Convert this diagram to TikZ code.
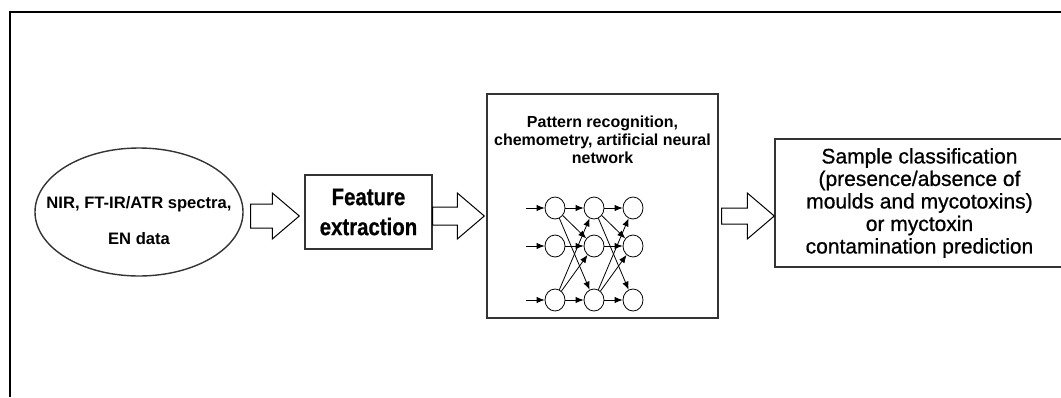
\documentclass[tikz,border=0pt]{standalone}
\usepackage{fontspec}
\setmainfont{Liberation Sans}
\newfontfamily\narrowbold[FakeStretch=0.85,FakeBold=0.6]{Liberation Sans Bold}
\newfontfamily\heavyfont[FakeBold=0.8]{Liberation Sans}
\usetikzlibrary{shapes.geometric,arrows.meta,calc}

\tikzset{
  outline/.style={draw=black!80, line width=0.7pt},
  stage/.style={outline, rectangle, inner sep=0pt, align=center},
  neuron/.style={draw, ellipse, minimum width=10pt, minimum height=11pt, inner sep=0pt},
  syn/.style={-{Latex[length=4pt,width=3.2pt]}, line width=0.4pt},
  fat/.style={draw, line width=0.5pt, fill=white}
}

% block arrow between two nodes: from, to, gap before, gap after, half shaft height
\newcommand\fatarrow[5]{%
  \draw[fat] let \p1=($(#1.east)+(#3,0)$), \p2=($(#2.west)-(#4,0)$), \p3=(flow) in
    (\x1,\y3+#5) -- (\x2-13.5pt,\y3+#5) -- (\x2-13.5pt,\y3+11.5pt) -- (\x2,\y3)
    -- (\x2-13.5pt,\y3-11.5pt) -- (\x2-13.5pt,\y3-#5) -- (\x1,\y3-#5) -- cycle;}

\begin{document}
\begin{tikzpicture}[x=0.5pt,y=-0.5pt]
  \useasboundingbox (0,0) rectangle (1061,397);

  % Frame
  \draw[line width=0.8pt] (1061,12) -- (10,12) -- (10,397);

  % Stages
  \node[outline, ellipse, minimum width=104pt, minimum height=64pt, inner sep=0pt] (src) at (139,212) {};
  \node[align=center, inner sep=0pt, font=\bfseries\fontsize{8.3}{18}\selectfont] (srctext) at (139,221)
        {NIR, FT-IR/ATR spectra,\\ EN data};
  \node[stage, minimum width=63.5pt, minimum height=37pt,
        font=\narrowbold\fontsize{12}{15}\selectfont] (feat) at (368.5,212)
        {Feature\\ extraction};
  \node[stage, minimum width=115.5pt, minimum height=112pt] (ann) at (602.5,206) {};
  \node[align=center, inner sep=0pt, font=\bfseries\fontsize{8}{9}\selectfont] (anntitle) at (602.5,140)
        {Pattern recognition,\\ chemometry, artificial neural\\ network};
  \node[stage, minimum width=144.5pt, minimum height=64pt,
        font=\heavyfont\fontsize{10.5}{11.25}\selectfont] (res) at (919.5,203)
        {Sample classification\\ (presence/absence of\\ moulds and mycotoxins)\\ or myctoxin\\ contamination prediction};

  % Flow arrows
  \coordinate (flow) at (0,216);
  \fatarrow{src}{feat}{7}{5}{6pt}
  \fatarrow{feat}{ann}{0}{2}{4.5pt}
  \fatarrow{ann}{res}{3}{0}{4pt}

  % Network sketch
  \foreach \c/\x in {1/555,2/594,3/633}
    \foreach \r/\y in {1/208,2/246,3/300}
      \node[neuron] (n\c\r) at (\x,\y) {};
  \foreach \r/\y in {1/208,2/246,3/300} {
    \coordinate (in\r) at (526,\y);
    \draw[syn] (in\r) -- (n1\r);
  }
  \foreach \a/\b in {1/2,2/3} {
    \foreach \r in {1,2,3}
      \draw[syn] (n\a\r) -- (n\b\r);
    \draw[syn] (n\a1) -- (n\b2);
    \draw[syn] (n\a1) -- (n\b3);
    \draw[syn] (n\a3) -- (n\b1);
    \draw[syn] (n\a3) -- (n\b2);
  }
\end{tikzpicture}
\end{document}
